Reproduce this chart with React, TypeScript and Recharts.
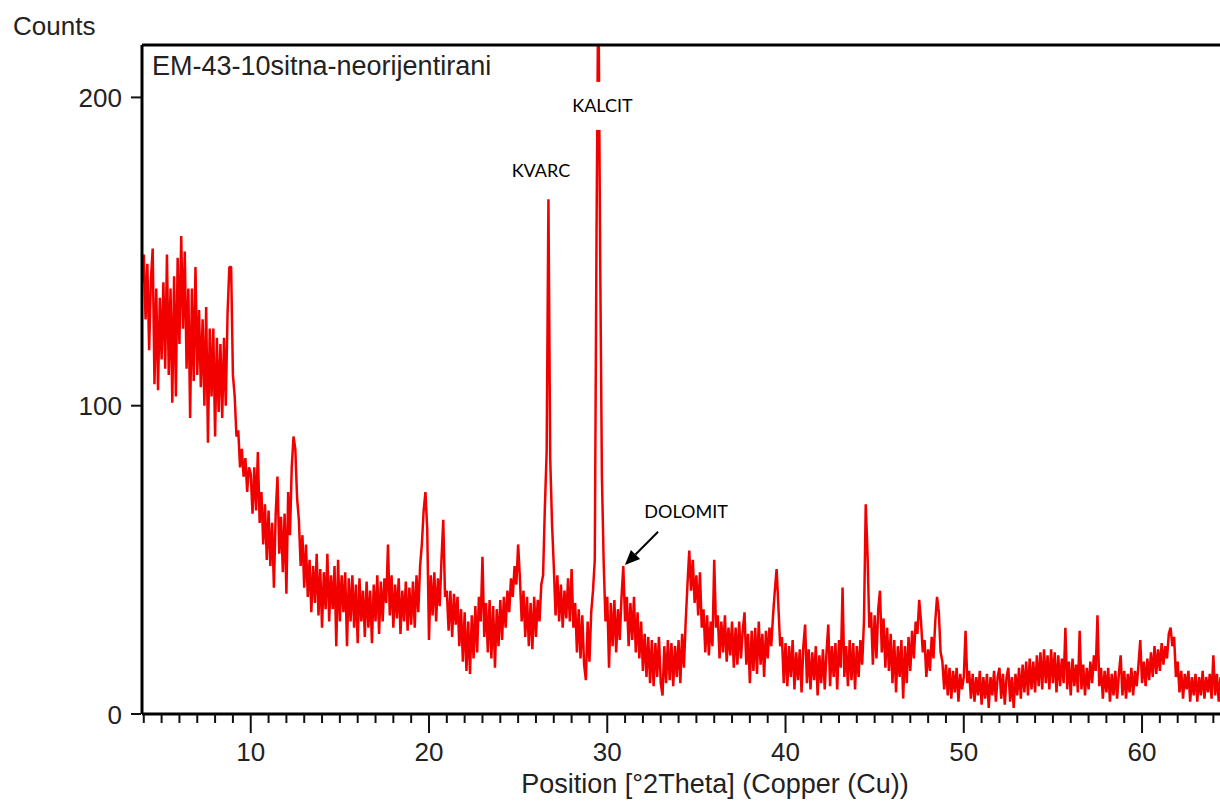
import React from "react";
import { LineChart, Line, XAxis, YAxis, ReferenceLine, ReferenceDot } from "recharts";

// XRD scan, counts every 0.1 °2Theta
const THETA_STEP = 0.1;

// 3.9 – 9.9
const counts04 = [
  140, 149, 128, 146, 118, 141, 151, 107, 138, 105, 135,
  115, 140, 112, 149, 110, 138, 101, 142, 103, 148,
  120, 155, 125, 150, 112, 138, 96, 138, 108, 145,
  110, 131, 106, 128, 100, 132, 88, 125, 103, 125,
  90, 122, 98, 120, 96, 122, 100, 130, 145, 145,
  110, 103, 90, 92, 80, 86, 77, 83, 72, 80,
];
// 10.0 – 19.9
const counts10 = [
  78, 65, 80, 66, 85, 62, 72, 55, 68, 50,
  66, 48, 62, 41, 65, 77, 52, 64, 46, 65,
  39, 72, 58, 80, 90, 86, 70, 63, 48, 58,
  41, 55, 38, 50, 33, 48, 36, 52, 32, 47,
  28, 46, 34, 52, 30, 45, 34, 48, 22, 50,
  30, 45, 33, 46, 22, 44, 30, 45, 28, 42,
  23, 44, 30, 40, 25, 43, 28, 40, 23, 42,
  30, 45, 26, 43, 30, 44, 36, 55, 32, 45,
  28, 42, 31, 44, 26, 40, 30, 43, 27, 41,
  29, 43, 28, 45, 33, 48, 55, 66, 72, 60,
];
// 20.0 – 29.9 (calcite peak runs off the top of the frame)
const counts20 = [
  24, 45, 32, 46, 30, 44, 35, 50, 63, 38,
  40, 27, 40, 25, 39, 29, 38, 22, 34, 17,
  33, 14, 30, 13, 32, 18, 35, 20, 38, 30,
  51, 25, 36, 20, 37, 18, 35, 15, 34, 22,
  37, 24, 38, 28, 40, 33, 44, 38, 48, 42,
  55, 44, 30, 40, 25, 38, 22, 36, 21, 38,
  25, 37, 30, 42, 45, 67, 85, 167, 83, 62,
  48, 32, 45, 30, 42, 28, 40, 31, 44, 30,
  47, 28, 36, 20, 34, 18, 32, 16, 11, 30,
  17, 33, 40, 50, 158, 240, 150, 77, 49, 30,
];
// 30.0 – 39.9
const counts30 = [
  38, 15, 36, 22, 37, 20, 34, 24, 38, 48,
  30, 38, 22, 36, 24, 38, 20, 33, 18, 30,
  14, 26, 12, 25, 10, 24, 9, 23, 12, 25,
  10, 6, 22, 10, 24, 11, 23, 9, 22, 12,
  24, 10, 26, 15, 30, 42, 53, 40, 50, 36,
  45, 32, 46, 28, 34, 20, 32, 19, 30, 22,
  50, 28, 32, 18, 30, 20, 32, 17, 28, 19,
  30, 15, 28, 16, 30, 18, 27, 33, 16, 26,
  10, 27, 14, 28, 13, 30, 16, 26, 12, 27,
  18, 28, 22, 32, 40, 47, 35, 22, 25, 10,
];
// 40.0 – 49.9
const counts40 = [
  23, 9, 22, 12, 24, 8, 20, 11, 21, 7,
  22, 29, 10, 21, 8, 20, 11, 22, 6, 19,
  10, 21, 8, 20, 29, 9, 22, 12, 23, 8,
  24, 15, 41, 12, 22, 9, 24, 11, 23, 8,
  22, 12, 24, 16, 30, 68, 52, 28, 33, 16,
  32, 18, 34, 40, 20, 31, 15, 28, 14, 26,
  10, 24, 7, 22, 12, 24, 5, 22, 10, 25,
  14, 27, 18, 30, 26, 37, 30, 20, 24, 12,
  21, 14, 25, 18, 30, 38, 33, 20, 17, 8,
  16, 6, 15, 5, 14, 7, 15, 4, 13, 8,
];
// 50.0 – 59.9
const counts50 = [
  12, 27, 10, 14, 5, 13, 4, 12, 6, 14,
  3, 12, 5, 13, 2, 12, 6, 14, 4, 12,
  15, 5, 13, 3, 12, 15, 4, 12, 2, 13,
  6, 15, 5, 16, 7, 17, 6, 18, 8, 17,
  7, 19, 9, 20, 8, 21, 10, 19, 8, 21,
  10, 20, 7, 19, 9, 18, 10, 28, 8, 17,
  6, 18, 9, 16, 7, 27, 8, 16, 6, 15,
  8, 17, 10, 19, 14, 32, 9, 15, 5, 14,
  7, 15, 4, 13, 6, 14, 5, 13, 19, 6,
  14, 5, 13, 7, 15, 6, 14, 9, 16, 24,
];
// 60.0 – 64.6
const counts60 = [
  10, 17, 9, 18, 11, 20, 12, 22, 13, 21,
  14, 23, 16, 22, 18, 26, 28, 22, 25, 12,
  17, 7, 14, 5, 13, 8, 14, 4, 12, 6,
  13, 4, 12, 6, 14, 5, 12, 7, 13, 5,
  19, 6, 13, 4, 12, 7, 13,
];

const segments = [
  { start: 3.9, counts: counts04 },
  { start: 10, counts: counts10 },
  { start: 20, counts: counts20 },
  { start: 30, counts: counts30 },
  { start: 40, counts: counts40 },
  { start: 50, counts: counts50 },
  { start: 60, counts: counts60 },
];

const data = segments.flatMap((s) =>
  s.counts.map((c, i) => ({
    theta: Math.round((s.start + i * THETA_STEP) * 100) / 100,
    counts: c,
  }))
);

const X_DOMAIN: [number, number] = [3.9, 66];
const Y_DOMAIN: [number, number] = [0, 217];
const xMajorTicks = [10, 20, 30, 40, 50, 60];
const xTicks = Array.from({ length: 63 }, (_, i) => 4 + i);
const yTicks = [0, 100, 200];

const peakLabels = [
  { text: "KVARC", theta: 26.28, counts: 174.3, boxed: false },
  { text: "KALCIT", theta: 29.73, counts: 195.3, boxed: true },
  { text: "DOLOMIT", theta: 34.42, counts: 63.5, boxed: false },
];
const dolomitArrow = [
  { x: 32.85, y: 59.1 },
  { x: 30.99, y: 48.3 },
];

const AXIS_FONT = '"Liberation Sans", Arial, sans-serif';
const NOTE_FONT = 'Lato, "Open Sans", sans-serif';

function XTick(props: any) {
  const { x, y, payload } = props;
  const major = xMajorTicks.includes(payload.value);
  return (
    <g>
      <line x1={x} x2={x} y1={y} y2={y + (major ? 19 : 9)} stroke="#111" strokeWidth={2} />
      {major && (
        <text x={x} y={y + 47} textAnchor="middle" fontSize={26} fontFamily={AXIS_FONT} fill="#222">
          {payload.value}
        </text>
      )}
    </g>
  );
}

function YTick(props: any) {
  const { x, y, payload } = props;
  return (
    <g>
      <line x1={x - 11} x2={x - 1} y1={y} y2={y} stroke="#111" strokeWidth={2} />
      <text x={x - 20} y={y + 9.5} textAnchor="end" fontSize={26} fontFamily={AXIS_FONT} fill="#222">
        {payload.value}
      </text>
    </g>
  );
}

function arrowShape(p: any) {
  const { x1, y1, x2, y2 } = p;
  const dx = x2 - x1;
  const dy = y2 - y1;
  const len = Math.sqrt(dx * dx + dy * dy) || 1;
  const ux = dx / len;
  const uy = dy / len;
  const hl = 15;
  const hw = 6.5;
  const bx = x2 - ux * hl;
  const by = y2 - uy * hl;
  return (
    <g>
      <line x1={x1} y1={y1} x2={bx} y2={by} stroke="#000" strokeWidth={2} />
      <polygon
        points={`${x2},${y2} ${bx - uy * hw},${by + ux * hw} ${bx + uy * hw},${by - ux * hw}`}
        fill="#000"
      />
    </g>
  );
}

export default function App() {
  return (
    <div
      style={{
        position: "fixed",
        left: 0,
        top: 0,
        width: 1220,
        height: 803,
        overflow: "hidden",
        background: "#fff",
      }}
    >
      <LineChart
        width={1262}
        height={803}
        data={data}
        margin={{ top: 45, right: 13, bottom: 29, left: 82 }}
      >
        <XAxis
          dataKey="theta"
          type="number"
          domain={X_DOMAIN}
          allowDataOverflow
          ticks={xTicks}
          interval={0}
          tickSize={0}
          tickMargin={0}
          tickLine={false}
          axisLine={{ stroke: "#000", strokeWidth: 3 }}
          tick={(p: any) => <XTick {...p} />}
          height={60}
        />
        <YAxis
          type="number"
          domain={Y_DOMAIN}
          allowDataOverflow
          ticks={yTicks}
          interval={0}
          tickSize={0}
          tickMargin={0}
          tickLine={false}
          axisLine={{ stroke: "#000", strokeWidth: 3 }}
          tick={(p: any) => <YTick {...p} />}
          width={60}
        />
        <Line
          type="linear"
          dataKey="counts"
          stroke="#f20000"
          strokeWidth={2.5}
          strokeLinejoin="bevel"
          dot={false}
          isAnimationActive={false}
        />
        <ReferenceLine y={Y_DOMAIN[1]} stroke="#000" strokeWidth={3} />
        {peakLabels.map((l) => (
          <ReferenceDot
            key={l.text}
            x={l.theta}
            y={l.counts}
            r={0}
            shape={(p: any) => (
              <g>
                {l.boxed && (
                  <rect x={p.cx - 32} y={p.cy - 30} width={64} height={48} fill="#fff" />
                )}
                <text
                  x={p.cx}
                  y={p.cy}
                  textAnchor="middle"
                  fontSize={18}
                  fontFamily={NOTE_FONT}
                  fill="#000"
                >
                  {l.text}
                </text>
              </g>
            )}
          />
        ))}
        <ReferenceLine segment={dolomitArrow} shape={arrowShape} />
      </LineChart>
      <svg
        width={1220}
        height={803}
        style={{ position: "absolute", left: 0, top: 0, pointerEvents: "none" }}
      >
        <text x={13} y={35} fontSize={26} fontFamily={AXIS_FONT} fill="#222">
          Counts
        </text>
        <text x={152} y={75} fontSize={27} fontFamily={AXIS_FONT} fill="#222">
          EM-43-10sitna-neorijentirani
        </text>
        <text x={715} y={793} textAnchor="middle" fontSize={27} fontFamily={AXIS_FONT} fill="#222">
          Position [°2Theta] (Copper (Cu))
        </text>
      </svg>
    </div>
  );
}
